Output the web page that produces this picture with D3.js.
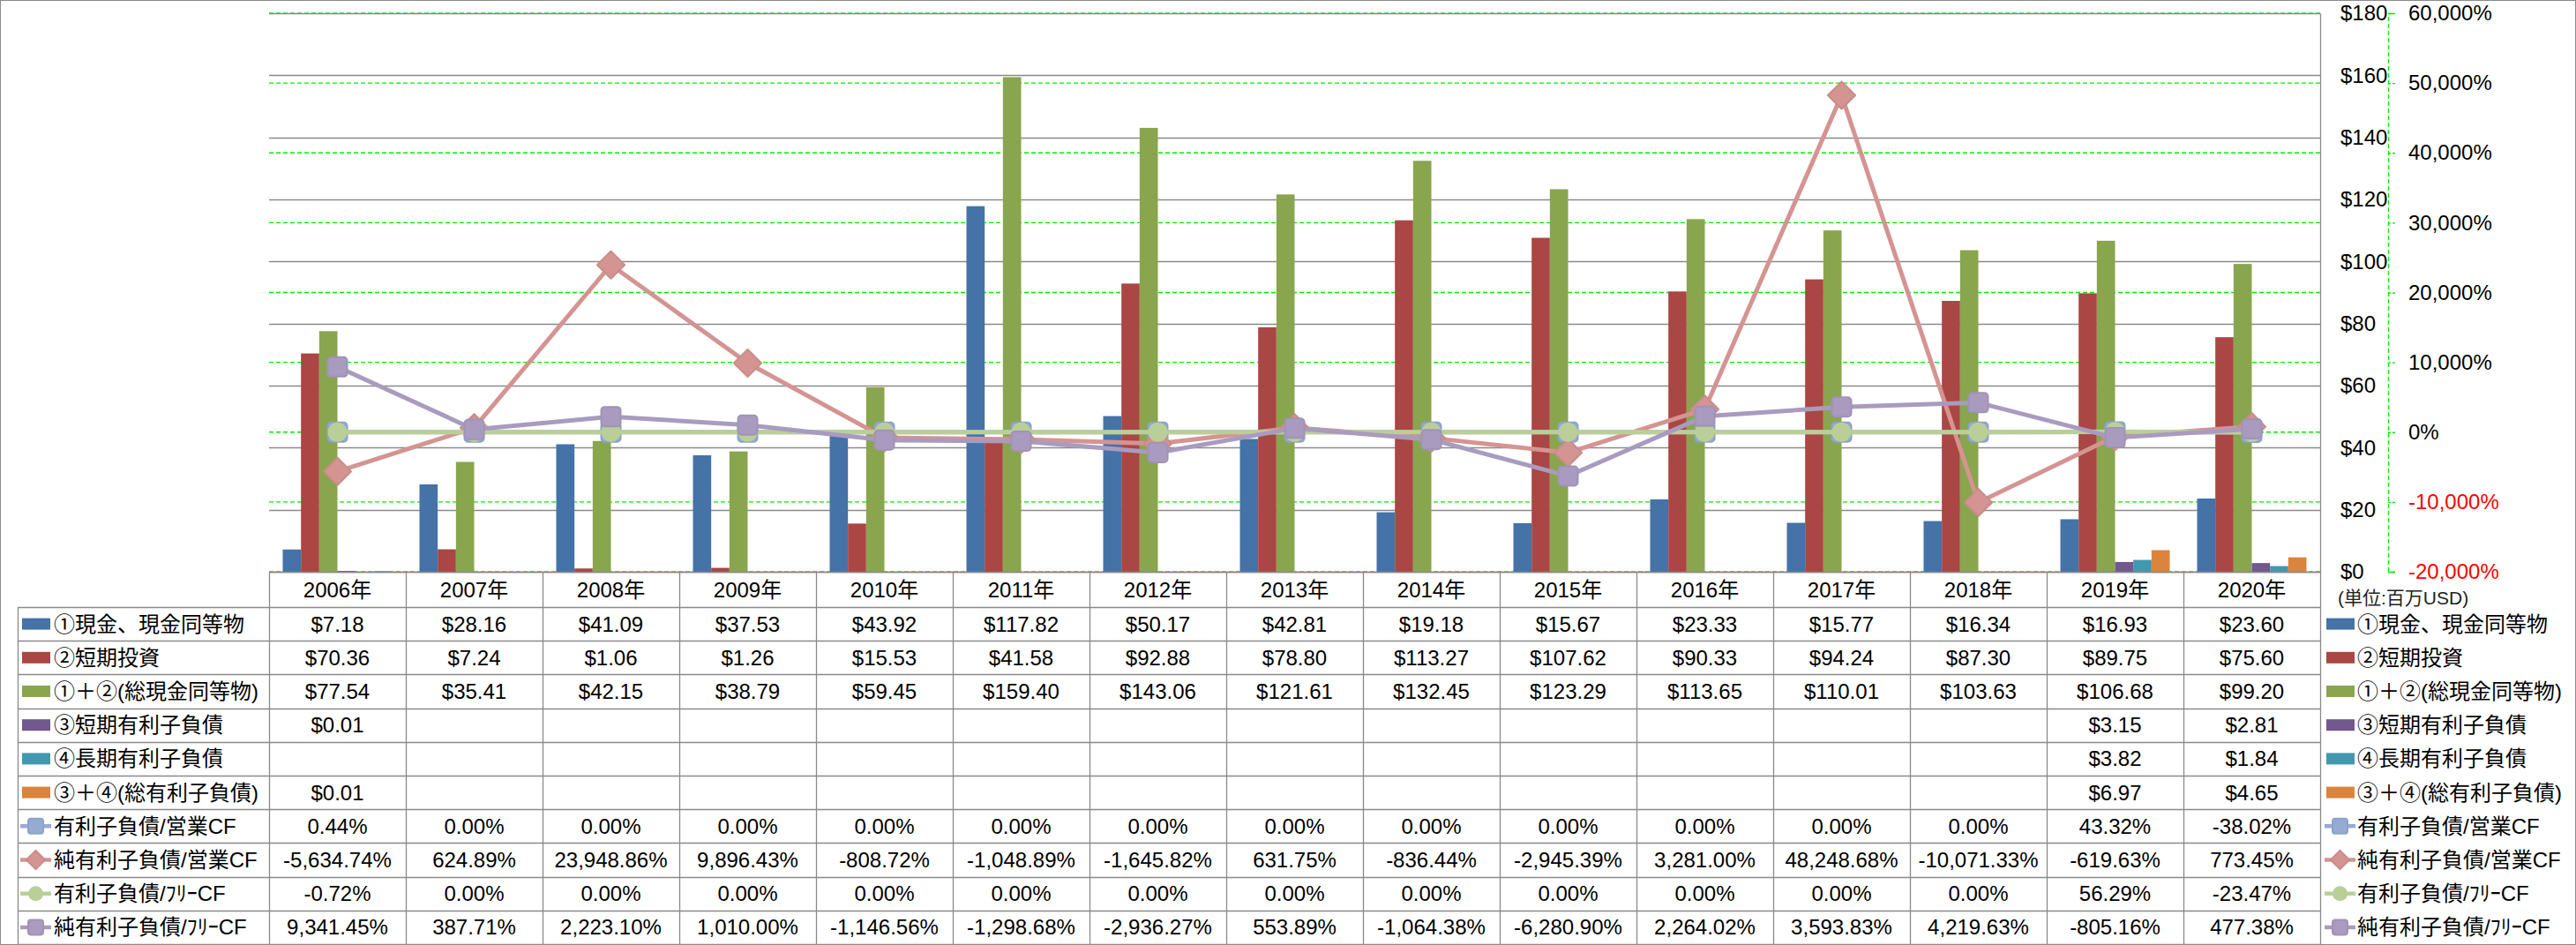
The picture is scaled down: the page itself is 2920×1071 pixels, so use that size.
<!DOCTYPE html>
<html><head><meta charset="utf-8">
<script src="https://cdn.jsdelivr.net/npm/d3@7"></script>
<style>
body{margin:0;background:#fff}
svg text{font-family:'Liberation Sans','Noto Sans CJK JP',sans-serif;}
</style>
</head><body><svg id="c" width="2920" height="1071"></svg>
<script>
// ---------- DATA ----------
const years = ["2006年","2007年","2008年","2009年","2010年","2011年","2012年","2013年","2014年","2015年","2016年","2017年","2018年","2019年","2020年"];
const cash      = [7.18, 28.16, 41.09, 37.53, 43.92, 117.82, 50.17, 42.81, 19.18, 15.67, 23.33, 15.77, 16.34, 16.93, 23.60];
const shortInv  = [70.36, 7.24, 1.06, 1.26, 15.53, 41.58, 92.88, 78.80, 113.27, 107.62, 90.33, 94.24, 87.30, 89.75, 75.60];
const totalCash = [77.54, 35.41, 42.15, 38.79, 59.45, 159.40, 143.06, 121.61, 132.45, 123.29, 113.65, 110.01, 103.63, 106.68, 99.20];
const stDebt    = [0.01, null, null, null, null, null, null, null, null, null, null, null, null, 3.15, 2.81];
const ltDebt    = [null, null, null, null, null, null, null, null, null, null, null, null, null, 3.82, 1.84];
const totalDebt = [0.01, null, null, null, null, null, null, null, null, null, null, null, null, 6.97, 4.65];
const debtOpCF    = [0.44, 0, 0, 0, 0, 0, 0, 0, 0, 0, 0, 0, 0, 43.32, -38.02];
const netDebtOpCF = [-5634.74, 624.89, 23948.86, 9896.43, -808.72, -1048.89, -1645.82, 631.75, -836.44, -2945.39, 3281.00, 48248.68, -10071.33, -619.63, 773.45];
const debtFCF     = [-0.72, 0, 0, 0, 0, 0, 0, 0, 0, 0, 0, 0, 0, 56.29, -23.47];
const netDebtFCF  = [9341.45, 387.71, 2223.10, 1010.00, -1146.56, -1298.68, -2936.27, 553.89, -1064.38, -6280.90, 2264.02, 3593.83, 4219.63, -805.16, 477.38];
const leftTicks  = [0, 20, 40, 60, 80, 100, 120, 140, 160, 180];
const rightTicks = [-20000, -10000, 0, 10000, 20000, 30000, 40000, 50000, 60000];

const barSeries = [
  {name:"①現金、現金同等物", values:cash, color:"#4572A7"},
  {name:"②短期投資", values:shortInv, color:"#AA4643"},
  {name:"①＋②(総現金同等物)", values:totalCash, color:"#89A54E"},
  {name:"③短期有利子負債", values:stDebt, color:"#71588F"},
  {name:"④長期有利子負債", values:ltDebt, color:"#4198AF"},
  {name:"③＋④(総有利子負債)", values:totalDebt, color:"#DB843D"}
];
const lineSeries = [
  {name:"有利子負債/営業CF", values:debtOpCF, color:"#95ABD3", shape:"square"},
  {name:"純有利子負債/営業CF", values:netDebtOpCF, color:"#D49492", shape:"diamond"},
  {name:"有利子負債/ﾌﾘｰCF", values:debtFCF, color:"#BACF98", shape:"circle"},
  {name:"純有利子負債/ﾌﾘｰCF", values:netDebtFCF, color:"#A99BBF", shape:"square"}
];

// ---------- LAYOUT ----------
const W=2920,H=1071;
const L=305,R=2630,T=15,B=648;
const rowTop=688, rowH=(1070-688)/10;
const FS=24;
const svg=d3.select("#c");
svg.append("rect").attr("x",0.5).attr("y",0.5).attr("width",W-1).attr("height",H-1)
  .attr("fill","#fff").attr("stroke","#8a8a8a");

const x=d3.scaleBand().domain(years).range([L,R]);
const bw=x.bandwidth();
const xb=d3.scaleBand().domain(d3.range(barSeries.length)).range([bw*0.1,bw*0.9]);
const y=d3.scaleLinear().domain([0,180]).range([B,T]);
const y2=d3.scaleLinear().domain([-20000,60000]).range([B,T]);

const loc=d3.formatLocale({decimal:".",thousands:",",grouping:[3],currency:["$",""],minus:"-"});
const fMoney=v=>"$"+loc.format(".2f")(v);
const fPct=v=>loc.format(",.2f")(v)+"%";

// gridlines
svg.append("g").selectAll("line").data(rightTicks).join("line")
  .attr("x1",L).attr("x2",R).attr("y1",d=>y2(d)).attr("y2",d=>y2(d))
  .attr("stroke","#00ee00").attr("stroke-width",1.3).attr("stroke-dasharray","5,3");
svg.append("g").selectAll("line").data(leftTicks).join("line")
  .attr("x1",L).attr("x2",R).attr("y1",d=>Math.round(y(d))+0.5).attr("y2",d=>Math.round(y(d))+0.5)
  .attr("stroke","#8a8a8a").attr("stroke-width",1.3);

// bars
barSeries.forEach((s,i)=>{
  svg.append("g").selectAll("rect").data(s.values.map((v,j)=>({v,yr:years[j]})).filter(d=>d.v!=null)).join("rect")
    .attr("x",d=>x(d.yr)+xb(i)).attr("width",xb.bandwidth())
    .attr("y",d=>Math.min(y(d.v),B-1)).attr("height",d=>Math.max(B-y(d.v),1))
    .attr("fill",s.color);
});

// markers
function marker(g,shape,color,cx,cy,size){
  if(shape==="square"){
    g.append("rect").attr("x",cx-size/2).attr("y",cy-size/2).attr("width",size).attr("height",size)
      .attr("rx",size*0.18).attr("fill",color).attr("stroke",d3.color(color).darker(0.15)).attr("stroke-width",2);
  } else if(shape==="circle"){
    g.append("circle").attr("cx",cx).attr("cy",cy).attr("r",size/2).attr("fill",color);
  } else {
    g.append("path").attr("d",d3.symbol(d3.symbolSquare,size*size)())
      .attr("transform",`translate(${cx},${cy}) rotate(45)`).attr("fill",color)
      .attr("stroke",d3.color(color).darker(0.15)).attr("stroke-width",2).attr("stroke-linejoin","round");
  }
}
const line=d3.line().x((d,j)=>x(years[j])+bw/2).y(d=>y2(d));
lineSeries.forEach(s=>{
  const g=svg.append("g");
  g.append("path").attr("d",line(s.values)).attr("fill","none").attr("stroke",s.color)
    .attr("stroke-width",5).attr("stroke-linejoin","round");
  s.values.forEach((v,j)=>marker(g,s.shape,s.color,x(years[j])+bw/2,y2(v),22));
});

// axes
const axL=svg.append("g").attr("transform",`translate(${R},0)`)
  .call(d3.axisRight(y).tickValues(leftTicks).tickFormat(d=>"$"+d).tickSize(0).tickPadding(23));
axL.select(".domain").attr("stroke","#8a8a8a").attr("stroke-width",1.3);
axL.selectAll("text").attr("font-size",FS).attr("fill","#000").attr("font-family","'Liberation Sans',sans-serif");
const axR=svg.append("g").attr("transform",`translate(2707,0)`)
  .call(d3.axisRight(y2).tickValues(rightTicks).tickFormat(d=>loc.format(",d")(d)+"%").tickSize(8).tickPadding(15));
axR.select(".domain").attr("stroke","#00ee00").attr("stroke-width",1.3).attr("stroke-dasharray","5,3");
axR.selectAll(".tick line").attr("stroke","#00ee00").attr("stroke-width",1.3).attr("stroke-dasharray","3,2");
axR.selectAll("text").attr("font-size",FS).attr("fill",d=>d<0?"#ff0000":"#000").attr("font-family","'Liberation Sans',sans-serif");

svg.append("text").attr("x",2650).attr("y",677).attr("dominant-baseline","central")
  .attr("font-size",21).attr("fill","#222").text("(単位:百万USD)");

// ---------- DATA TABLE ----------
const tg=svg.append("g");
const gridC="#8a8a8a";
// vertical lines
years.forEach((yr,k)=>{
  tg.append("line").attr("x1",x(yr)+0.5).attr("x2",x(yr)+0.5).attr("y1",B).attr("y2",1070).attr("stroke",gridC).attr("stroke-width",1.3);
});
tg.append("line").attr("x1",R+0.5).attr("x2",R+0.5).attr("y1",B).attr("y2",1070).attr("stroke",gridC).attr("stroke-width",1.3);
tg.append("line").attr("x1",20.5).attr("x2",20.5).attr("y1",rowTop).attr("y2",1070).attr("stroke",gridC).attr("stroke-width",1.3);
d3.range(11).forEach(r=>{
  const yy=Math.round(rowTop+r*rowH)+0.5;
  tg.append("line").attr("x1",20.5).attr("x2",R).attr("y1",yy).attr("y2",yy).attr("stroke",gridC).attr("stroke-width",1.3);
});
tg.append("line").attr("x1",L).attr("x2",R).attr("y1",B+0.5).attr("y2",B+0.5).attr("stroke",gridC).attr("stroke-width",1.3);
// header
tg.selectAll("text.hdr").data(years).join("text").attr("class","hdr")
  .attr("x",d=>x(d)+bw/2).attr("y",668).attr("text-anchor","middle").attr("dominant-baseline","central")
  .attr("font-size",FS).attr("fill","#000").text(d=>d);

const rows=[...barSeries.map(s=>({...s,kind:"bar"})),...lineSeries.map(s=>({...s,kind:"line"}))];
function legendKey(g,s,x0,cy){
  if(s.kind==="bar"){
    g.append("rect").attr("x",x0).attr("y",cy-6.5).attr("width",32).attr("height",13).attr("fill",s.color);
  } else {
    g.append("line").attr("x1",x0-2).attr("x2",x0+33).attr("y1",cy).attr("y2",cy).attr("stroke",s.color).attr("stroke-width",4.5);
    marker(g,s.shape,s.color,x0+15.5,cy,s.shape==="diamond"?15:17);
  }
}
rows.forEach((s,r)=>{
  const cy=rowTop+r*rowH+rowH/2;
  const g=tg.append("g");
  legendKey(g,s,25,cy);
  g.append("text").attr("x",61).attr("y",cy).attr("dominant-baseline","central").attr("font-size",FS).attr("fill","#000").text(s.name);
  legendKey(g,s,2637,cy);
  g.append("text").attr("x",2672).attr("y",cy).attr("dominant-baseline","central").attr("font-size",FS).attr("fill","#000").text(s.name);
  s.values.forEach((v,j)=>{
    if(v==null) return;
    g.append("text").attr("x",x(years[j])+bw/2).attr("y",cy).attr("text-anchor","middle").attr("dominant-baseline","central")
      .attr("font-size",FS).attr("fill","#000").text(s.kind==="bar"?fMoney(v):fPct(v));
  });
});
</script></body></html>
